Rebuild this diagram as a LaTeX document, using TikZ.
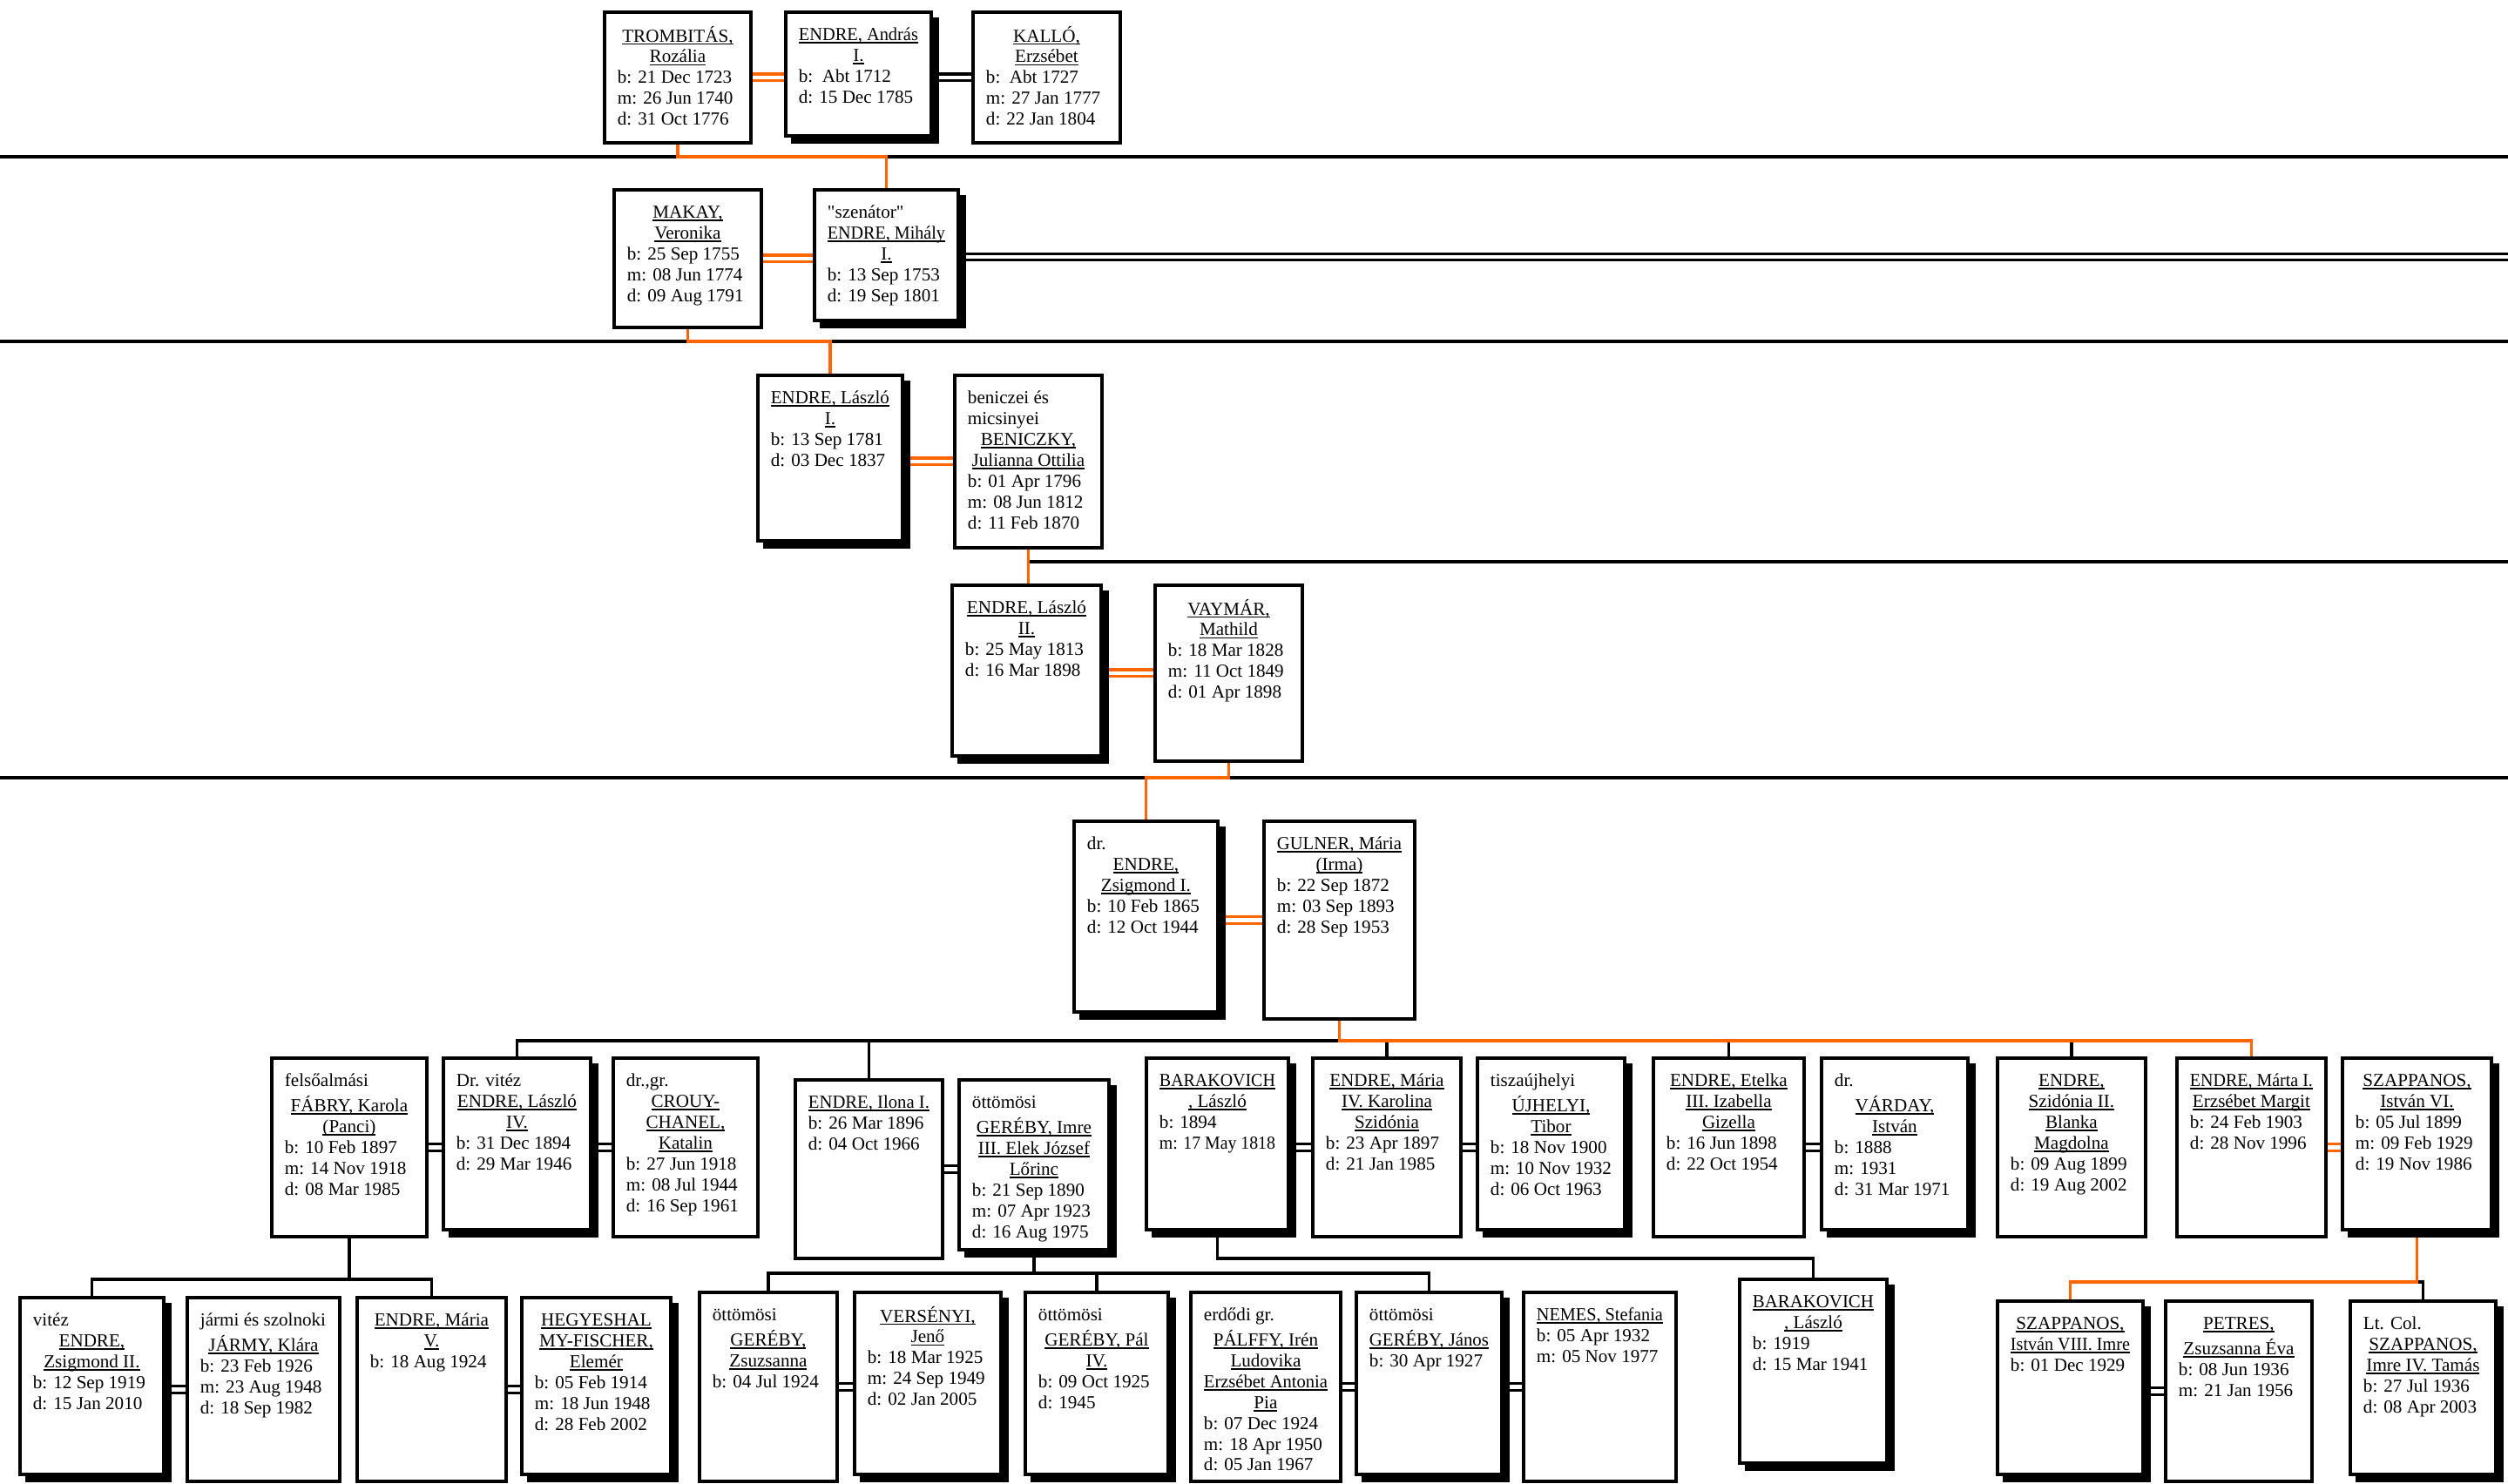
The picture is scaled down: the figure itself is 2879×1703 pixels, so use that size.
\documentclass[tikz,border=0pt]{standalone}
\usepackage{fontspec}
\setmainfont{Liberation Serif}[Ligatures=TeXOff]
\usepackage{graphicx}
\usetikzlibrary{backgrounds,shadows}
\definecolor{ftorange}{RGB}{255,102,0}
\newsavebox\tb
\newcommand\fitb[1]{\sbox\tb{#1}\ifdim\wd\tb>\hsize\sbox\tb{\resizebox{\hsize}{\height}{\usebox\tb}}\fi}
\newcommand\NL[1]{\fitb{#1}\hbox to\hsize{\hss\rlap{\rule[-0.95pt]{\wd\tb}{0.5pt}}\usebox\tb\hss\strut}}
\newcommand\TL[1]{\fitb{#1}\hbox to\hsize{\usebox\tb\hss\strut}}
\newcommand\famnode[7][]{%
 \node[pbox,#1,minimum width=#5*0.01cm,minimum height=#6*0.01cm] (#2) at (#3,#4)
 {\begin{minipage}[c][\dimexpr#6\dimexpr0.01cm\relax-32\dimexpr0.01cm\relax\relax][t]{\dimexpr#5\dimexpr0.01cm\relax-30\dimexpr0.01cm\relax\relax}#7\end{minipage}};}
\tikzset{
 pbox/.style={draw, line width=1.1pt, fill=white, inner sep=0pt, anchor=north west, font=\fontsize{6}{6.8}\selectfont},
 shd/.style={drop shadow={fill=black, draw=black, line width=1.1pt, opacity=1, shadow xshift=0.075cm, shadow yshift=-0.075cm}},
 blk/.style={draw=black, line width=1pt},
 org/.style={draw=ftorange, line width=1pt},
 dblk/.style={draw=black, line width=0.95pt, double=white, double distance=1.2pt},
 dorg/.style={draw=ftorange, line width=0.95pt, double=white, double distance=1.2pt},
}
\begin{document}
\begin{tikzpicture}[x=0.01cm,y=-0.01cm]
% ---------- row 1
\famnode{trom}{692}{12}{168}{150}{\NL{TROMBITÁS,}\NL{Rozália}\TL{b: 21 Dec 1723}\TL{m: 26 Jun 1740}\TL{d: 31 Oct 1776}}
\famnode[shd]{andras}{900}{12}{167}{142}{\NL{ENDRE, András}\NL{I.}\TL{b:\ \ Abt 1712}\TL{d: 15 Dec 1785}}
\famnode{kallo}{1115}{12}{169}{150}{\NL{KALLÓ,}\NL{Erzsébet}\TL{b:\ \ Abt 1727}\TL{m: 27 Jan 1777}\TL{d: 22 Jan 1804}}
% ---------- row 2
\famnode{makay}{703}{216}{169}{158}{\NL{MAKAY,}\NL{Veronika}\TL{b: 25 Sep 1755}\TL{m: 08 Jun 1774}\TL{d: 09 Aug 1791}}
\famnode[shd]{mihaly}{933}{216}{165}{150}{\TL{"szenátor"}\NL{ENDRE, Mihály}\NL{I.}\TL{b: 13 Sep 1753}\TL{d: 19 Sep 1801}}
% ---------- row 3
\famnode[shd]{laszlo1}{868}{429}{166}{190}{\NL{ENDRE, László}\NL{I.}\TL{b: 13 Sep 1781}\TL{d: 03 Dec 1837}}
\famnode{benic}{1094}{429}{169}{198}{\TL{beniczei és}\TL{micsinyei}\NL{BENICZKY,}\NL{Julianna Ottilia}\TL{b: 01 Apr 1796}\TL{m: 08 Jun 1812}\TL{d: 11 Feb 1870}}
% ---------- row 4
\famnode[shd]{laszlo2}{1091}{670}{171}{196}{\NL{ENDRE, László}\NL{II.}\TL{b: 25 May 1813}\TL{d: 16 Mar 1898}}
\famnode{vaymar}{1324}{670}{169}{202}{\NL{VAYMÁR,}\NL{Mathild}\TL{b: 18 Mar 1828}\TL{m: 11 Oct 1849}\TL{d: 01 Apr 1898}}
% ---------- row 5
\famnode[shd]{zsig1}{1231}{941}{165}{219}{\TL{dr.}\NL{ENDRE,}\NL{Zsigmond I.}\TL{b: 10 Feb 1865}\TL{d: 12 Oct 1944}}
\famnode{gulner}{1449}{941}{173}{227}{\NL{GULNER, Mária}\NL{(Irma)}\TL{b: 22 Sep 1872}\TL{m: 03 Sep 1893}\TL{d: 28 Sep 1953}}
% ---------- row 6
\famnode{fabry}{310}{1213}{178}{205}{\TL{felsőalmási}\NL{FÁBRY, Karola}\NL{(Panci)}\TL{b: 10 Feb 1897}\TL{m: 14 Nov 1918}\TL{d: 08 Mar 1985}}
\famnode[shd]{laszlo4}{507}{1213}{169}{197}{\TL{Dr. vitéz}\NL{ENDRE, László}\NL{IV.}\TL{b: 31 Dec 1894}\TL{d: 29 Mar 1946}}
\famnode{crouy}{702}{1213}{166}{205}{\TL{dr.,gr.}\NL{CROUY-}\NL{CHANEL,}\NL{Katalin}\TL{b: 27 Jun 1918}\TL{m: 08 Jul 1944}\TL{d: 16 Sep 1961}}
\famnode{ilona}{911}{1238}{169}{205}{\NL{ENDRE, Ilona I.}\TL{b: 26 Mar 1896}\TL{d: 04 Oct 1966}}
\famnode[shd]{imre}{1099}{1238}{172}{195}{\TL{öttömösi}\NL{GERÉBY, Imre}\NL{III. Elek József}\NL{Lőrinc}\TL{b: 21 Sep 1890}\TL{m: 07 Apr 1923}\TL{d: 16 Aug 1975}}
\famnode[shd]{barak1}{1314}{1213}{163}{197}{\NL{BARAKOVICH}\NL{, László}\TL{b: 1894}\TL{m: 17 May 1818}}
\famnode{maria4}{1505}{1213}{170}{205}{\NL{ENDRE, Mária}\NL{IV. Karolina}\NL{Szidónia}\TL{b: 23 Apr 1897}\TL{d: 21 Jan 1985}}
\famnode[shd]{ujhelyi}{1694}{1213}{169}{197}{\TL{tiszaújhelyi}\NL{ÚJHELYI,}\NL{Tibor}\TL{b: 18 Nov 1900}\TL{m: 10 Nov 1932}\TL{d: 06 Oct 1963}}
\famnode{etelka}{1896}{1213}{173}{205}{\NL{ENDRE, Etelka}\NL{III. Izabella}\NL{Gizella}\TL{b: 16 Jun 1898}\TL{d: 22 Oct 1954}}
\famnode[shd]{varday}{2089}{1213}{168}{197}{\TL{dr.}\NL{VÁRDAY,}\NL{István}\TL{b: 1888}\TL{m: 1931}\TL{d: 31 Mar 1971}}
\famnode{szidonia}{2291}{1213}{170}{205}{\NL{ENDRE,}\NL{Szidónia II.}\NL{Blanka}\NL{Magdolna}\TL{b: 09 Aug 1899}\TL{d: 19 Aug 2002}}
\famnode{marta}{2497}{1213}{171}{205}{\NL{ENDRE, Márta I.}\NL{Erzsébet Margit}\TL{b: 24 Feb 1903}\TL{d: 28 Nov 1996}}
\famnode[shd]{szap6}{2687}{1213}{171}{197}{\NL{SZAPPANOS,}\NL{István VI.}\TL{b: 05 Jul 1899}\TL{m: 09 Feb 1929}\TL{d: 19 Nov 1986}}
% ---------- row 7
\famnode[shd]{zsig2}{21}{1488}{165}{203}{\TL{vitéz}\NL{ENDRE,}\NL{Zsigmond II.}\TL{b: 12 Sep 1919}\TL{d: 15 Jan 2010}}
\famnode{jarmy}{213}{1488}{175}{211}{\TL{jármi és szolnoki}\NL{JÁRMY, Klára}\TL{b: 23 Feb 1926}\TL{m: 23 Aug 1948}\TL{d: 18 Sep 1982}}
\famnode{maria5}{408}{1488}{171}{211}{\NL{ENDRE, Mária}\NL{V.}\TL{b: 18 Aug 1924}}
\famnode[shd]{hegy}{597}{1488}{171}{203}{\NL{HEGYESHAL}\NL{MY-FISCHER,}\NL{Elemér}\TL{b: 05 Feb 1914}\TL{m: 18 Jun 1948}\TL{d: 28 Feb 2002}}
\famnode{zsuzsa}{801}{1482}{158}{217}{\TL{öttömösi}\NL{GERÉBY,}\NL{Zsuzsanna}\TL{b: 04 Jul 1924}}
\famnode[shd]{versenyi}{979}{1482}{168}{209}{\NL{VERSÉNYI,}\NL{Jenő}\TL{b: 18 Mar 1925}\TL{m: 24 Sep 1949}\TL{d: 02 Jan 2005}}
\famnode[shd]{pal}{1175}{1482}{164}{209}{\TL{öttömösi}\NL{GERÉBY, Pál}\NL{IV.}\TL{b: 09 Oct 1925}\TL{d: 1945}}
\famnode{palffy}{1365}{1482}{172}{217}{\TL{erdődi gr.}\NL{PÁLFFY, Irén}\NL{Ludovika}\NL{Erzsébet Antonia}\NL{Pia}\TL{b: 07 Dec 1924}\TL{m: 18 Apr 1950}\TL{d: 05 Jan 1967}}
\famnode[shd]{janos}{1555}{1482}{167}{209}{\TL{öttömösi}\NL{GERÉBY, János}\TL{b: 30 Apr 1927}}
\famnode{nemes}{1747}{1482}{175}{217}{\NL{NEMES, Stefania}\TL{b: 05 Apr 1932}\TL{m: 05 Nov 1977}}
\famnode[shd]{barak2}{1995}{1467}{169}{211}{\NL{BARAKOVICH}\NL{, László}\TL{b: 1919}\TL{d: 15 Mar 1941}}
\famnode[shd]{szap8}{2291}{1492}{167}{199}{\NL{SZAPPANOS,}\NL{István VIII. Imre}\TL{b: 01 Dec 1929}}
\famnode{petres}{2484}{1492}{168}{207}{\NL{PETRES,}\NL{Zsuzsanna Éva}\TL{b: 08 Jun 1936}\TL{m: 21 Jan 1956}}
\famnode[shd]{ltcol}{2696}{1492}{167}{199}{\TL{Lt. Col.}\NL{SZAPPANOS,}\NL{Imre IV. Tamás}\TL{b: 27 Jul 1936}\TL{d: 08 Apr 2003}}
% ---------- connectors
\coordinate (L1a) at (0,180);   \coordinate (L1b) at (2879,180);
\coordinate (L2a) at (0,392);   \coordinate (L2b) at (2879,392);
\coordinate (L3)  at (2879,645);
\coordinate (L4a) at (0,893);   \coordinate (L4b) at (2879,893);
\coordinate (R2)  at (2879,295);
\coordinate (b5) at (0,1195);
\coordinate (b6) at (0,1469);
\coordinate (b7) at (0,1462);
\coordinate (b8) at (0,1445);
\coordinate (b9) at (0,1472);
\begin{pgfonlayer}{background}
\fill[white] (0,0) rectangle (2879,1703);
% long black lines
\draw[blk] (L1a) -- (L1b);
\draw[blk] (L2a) -- (L2b);
\draw[blk] (L4a) -- (L4b);
\draw[blk] (benic.south |- L3) -- (L3);
% black descent lines
\draw[blk] (laszlo4.north) |- (gulner.south |- b5);
\draw[blk] (ilona.north) -- (ilona.north |- b5);
\draw[blk] (maria4.north) -- (maria4.north |- b5);
\draw[blk] (etelka.north) -- (etelka.north |- b5);
\draw[blk] (szidonia.north) -- (szidonia.north |- b5);
\draw[blk] (fabry.south) -- (fabry.south |- b6);
\draw[blk] (zsig2.north) |- (maria5.north |- b6) -- (maria5.north);
\draw[blk] (imre.south) -- (imre.south |- b7);
\draw[blk] (zsuzsa.north) |- (janos.north |- b7) -- (janos.north);
\draw[blk] (pal.north) -- (pal.north |- b7);
\draw[blk] (barak1.south) |- (barak2.north |- b8) -- (barak2.north);
\draw[blk] (szap6.south |- b9) -| (ltcol.north);
% orange descent lines
\draw[org] (trom.south) |- (mihaly.north |- L1a) -- (mihaly.north);
\draw[org] (makay.south) |- (laszlo1.north |- L2a) -- (laszlo1.north);
\draw[org] (benic.south) -- (benic.south |- laszlo2.north);
\draw[org] (vaymar.south) |- (zsig1.north |- L4a) -- (zsig1.north);
\draw[org] (gulner.south) |- (marta.north |- b5) -- (marta.north);
\draw[org] (szap6.south) |- (szap8.north |- b9) -- (szap8.north);
% marriages
\draw[dorg] (trom.east) -- (trom.east -| andras.west);
\draw[dblk] (kallo.west) -- (kallo.west -| andras.east);
\draw[dorg] (makay.east) -- (makay.east -| mihaly.west);
\draw[dblk] (R2) -- (R2 -| mihaly.east);
\draw[dorg] (benic.west) -- (benic.west -| laszlo1.east);
\draw[dorg] (vaymar.west) -- (vaymar.west -| laszlo2.east);
\draw[dorg] (gulner.west) -- (gulner.west -| zsig1.east);
\draw[dblk] (fabry.east) -- (fabry.east -| laszlo4.west);
\draw[dblk] (crouy.west) -- (crouy.west -| laszlo4.east);
\draw[dblk] (ilona.east) -- (ilona.east -| imre.west);
\draw[dblk] (maria4.west) -- (maria4.west -| barak1.east);
\draw[dblk] (maria4.east) -- (maria4.east -| ujhelyi.west);
\draw[dblk] (etelka.east) -- (etelka.east -| varday.west);
\draw[dorg] (marta.east) -- (marta.east -| szap6.west);
\draw[dblk] (jarmy.west) -- (jarmy.west -| zsig2.east);
\draw[dblk] (maria5.east) -- (maria5.east -| hegy.west);
\draw[dblk] (zsuzsa.east) -- (zsuzsa.east -| versenyi.west);
\draw[dblk] (palffy.east) -- (palffy.east -| janos.west);
\draw[dblk] (nemes.west) -- (nemes.west -| janos.east);
\draw[dblk] (petres.west) -- (petres.west -| szap8.east);
\end{pgfonlayer}
\pgfresetboundingbox
\useasboundingbox (0,0) rectangle (2879,1703);
\end{tikzpicture}
\end{document}
